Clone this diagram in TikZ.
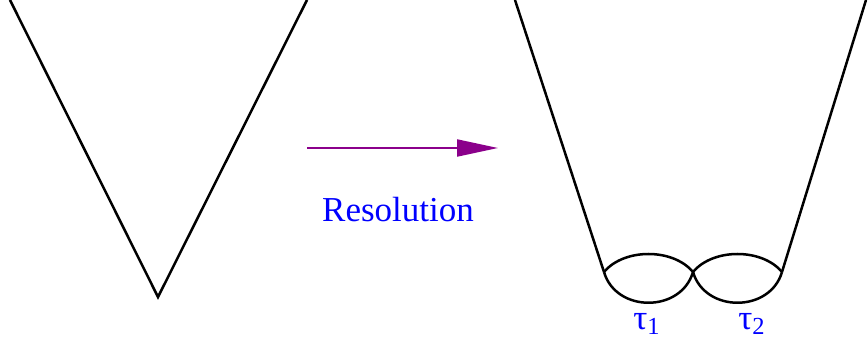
\documentclass[tikz,border=0pt]{standalone}
\usepackage{fontspec}
\setmainfont{Liberation Serif}
\usetikzlibrary{arrows.meta, positioning}
\definecolor{resblue}{RGB}{0,0,255}
\definecolor{respurple}{RGB}{139,0,139}

\begin{document}
\begin{tikzpicture}[x=0.5pt, y=-0.5pt, line width=1.25pt,
  tagtext/.style={text=resblue, font=\fontsize{17.5}{20}\selectfont, inner sep=0pt}]
  \useasboundingbox (0,0) rectangle (868,347);
  % singular cone
  \draw (10,0) -- (158,297) -- (307,0);
  % resolution map
  \coordinate (from) at (307,148);
  \coordinate (to) at (498,148);
  \draw[respurple, line width=1pt, -{Triangle[length=20.5pt, width=8.5pt]}] (from) -- (to);
  \node[tagtext, anchor=base] (res) at (398,222) {Resolution};
  % resolved cone with two exceptional curves
  \coordinate (p0) at (604,272);
  \coordinate (p1) at (693,272);
  \coordinate (p2) at (782,272);
  \draw (515,0) -- (p0);
  \draw (866,0) -- (p2);
  \draw (p0) .. controls +(20,-24) and +(-20,-24) .. (p1);
  \draw (p0) .. controls +(12,41) and +(-12,41) .. (p1);
  \draw (p1) .. controls +(20,-24) and +(-20,-24) .. (p2);
  \draw (p1) .. controls +(12,41) and +(-12,41) .. (p2);
  \node[tagtext, anchor=base] (tau1) at (647,329) {τ\textsubscript{1}};
  \node[tagtext, anchor=base] (tau2) at (752,329) {τ\textsubscript{2}};
\end{tikzpicture}
\end{document}
